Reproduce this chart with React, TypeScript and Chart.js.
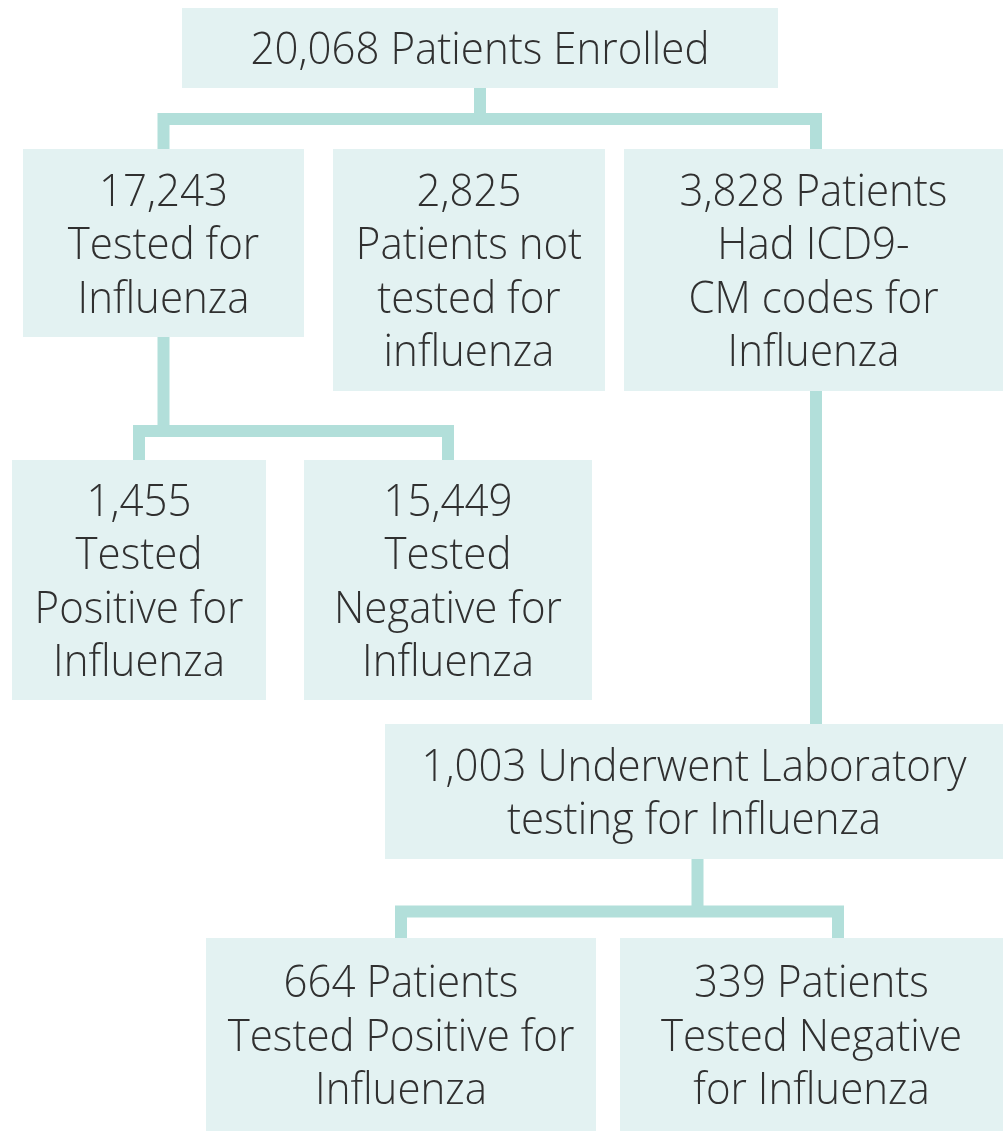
import React, { useEffect, useRef } from "react";
import { Chart, registerables } from "chart.js";

Chart.register(...registerables);

// ---- Content (flowchart node texts) ----
const nodeTexts: string[][] = [
  ["20,068 Patients Enrolled"],
  ["17,243", "Tested for", "Influenza"],
  ["2,825", "Patients not", "tested for", "influenza"],
  ["3,828 Patients", "Had ICD9-", "CM codes for", "Influenza"],
  ["1,455", "Tested", "Positive for", "Influenza"],
  ["15,449", "Tested", "Negative for", "Influenza"],
  ["1,003 Underwent Laboratory", "testing for Influenza"],
  ["664 Patients", "Tested Positive for", "Influenza"],
  ["339 Patients", "Tested Negative", "for Influenza"],
];

// ---- Layout (diagram coordinates, in axis units) ----
const boxLeft = [182, 23, 333, 624, 12, 304, 385, 206, 620];
const boxRight = [778, 304, 605, 1003, 266, 592, 1003, 596, 1003];
const boxTop = [8, 149, 149, 149, 460, 460, 724, 938, 938];
const boxBottom = [88, 337, 391, 391, 700, 700, 859, 1131, 1131];

// connector polylines: x list and y list
const connectorX: number[][] = [
  [480, 480],
  [163.5, 163.5, 816, 816],
  [163.5, 163.5],
  [139, 139, 448, 448],
  [816, 816],
  [697.5, 697.5],
  [401, 401, 838, 838],
];
const connectorY: number[][] = [
  [88, 119],
  [149, 119, 119, 149],
  [337, 431],
  [460, 431, 431, 460],
  [391, 724],
  [859, 911.5],
  [938, 911.5, 911.5, 938],
];

const BOX_FILL = "rgb(227,242,242)";
const LINE_COLOR = "rgb(178,223,218)";
const TEXT_COLOR = "#303030";
const FONT_FAMILY = "'Open Sans', 'Noto Sans', sans-serif";
const FONT_SIZE = 45;
const FONT_WEIGHT = 300;
const LINE_HEIGHT = 53.5;
const CAP_HEIGHT = 32;
const REF_STRING = "1,003 Underwent Laboratory";
const REF_WIDTH = 545;

const flowPlugin = {
  id: "flowBoxes",
  beforeDatasetsDraw(chart: any) {
    const { ctx, scales } = chart;
    const xs = scales.x;
    const ys = scales.y;
    ctx.save();
    ctx.fillStyle = BOX_FILL;
    for (let i = 0; i < nodeTexts.length; i++) {
      const x0 = xs.getPixelForValue(boxLeft[i]);
      const x1 = xs.getPixelForValue(boxRight[i]);
      const y0 = ys.getPixelForValue(boxTop[i]);
      const y1 = ys.getPixelForValue(boxBottom[i]);
      ctx.fillRect(x0, y0, x1 - x0, y1 - y0);
    }
    ctx.restore();
  },
  afterDatasetsDraw(chart: any) {
    const { ctx, scales } = chart;
    const xs = scales.x;
    const ys = scales.y;
    ctx.save();
    ctx.font = `${FONT_WEIGHT} ${FONT_SIZE}px ${FONT_FAMILY}`;
    const sx = REF_WIDTH / ctx.measureText(REF_STRING).width;
    ctx.fillStyle = TEXT_COLOR;
    ctx.textAlign = "center";
    ctx.textBaseline = "alphabetic";
    for (let i = 0; i < nodeTexts.length; i++) {
      const lines = nodeTexts[i];
      const cx = (xs.getPixelForValue(boxLeft[i]) + xs.getPixelForValue(boxRight[i])) / 2;
      const cy = (ys.getPixelForValue(boxTop[i]) + ys.getPixelForValue(boxBottom[i])) / 2;
      const n = lines.length;
      for (let j = 0; j < n; j++) {
        const by = cy + (j - (n - 1) / 2) * LINE_HEIGHT + CAP_HEIGHT / 2;
        ctx.save();
        ctx.translate(cx, by);
        ctx.scale(sx, 1);
        ctx.fillText(lines[j], 0, 0);
        ctx.restore();
      }
    }
    ctx.restore();
  },
};

export default function App() {
  const canvasRef = useRef<HTMLCanvasElement | null>(null);

  useEffect(() => {
    document.body.style.margin = "0";
    document.body.style.background = "#ffffff";
    const canvas = canvasRef.current;
    if (!canvas) return;
    const datasets = connectorX.map((xsArr, k) => ({
      label: `connector ${k + 1}`,
      data: xsArr.map((x, idx) => ({ x, y: connectorY[k][idx] })),
      showLine: true,
      borderColor: LINE_COLOR,
      backgroundColor: LINE_COLOR,
      borderWidth: 12,
      borderCapStyle: "butt" as const,
      borderJoinStyle: "miter" as const,
      pointRadius: 0,
      pointHoverRadius: 0,
      pointBorderWidth: 0,
      tension: 0,
      clip: false as any,
    }));
    const chart = new Chart(canvas, {
      type: "scatter",
      data: { datasets },
      options: {
        animation: false,
        responsive: false,
        devicePixelRatio: 1,
        layout: { padding: 0, autoPadding: false } as any,
        events: [],
        plugins: {
          legend: { display: false },
          tooltip: { enabled: false },
        },
        scales: {
          x: { type: "linear", min: 0, max: 1003, display: false },
          y: { type: "linear", min: 0, max: 1131, reverse: true, display: false },
        },
      },
      plugins: [flowPlugin],
    });
    let alive = true;
    if ((document as any).fonts && (document as any).fonts.load) {
      (document as any).fonts
        .load(`${FONT_WEIGHT} ${FONT_SIZE}px 'Open Sans'`)
        .then(() => {
          if (alive) chart.update();
        })
        .catch(() => {});
    }
    return () => {
      alive = false;
      chart.destroy();
    };
  }, []);

  return (
    <div style={{ width: 1003, height: 1131, background: "#fff" }}>
      <canvas ref={canvasRef} width={1003} height={1131} style={{ display: "block" }} />
    </div>
  );
}
